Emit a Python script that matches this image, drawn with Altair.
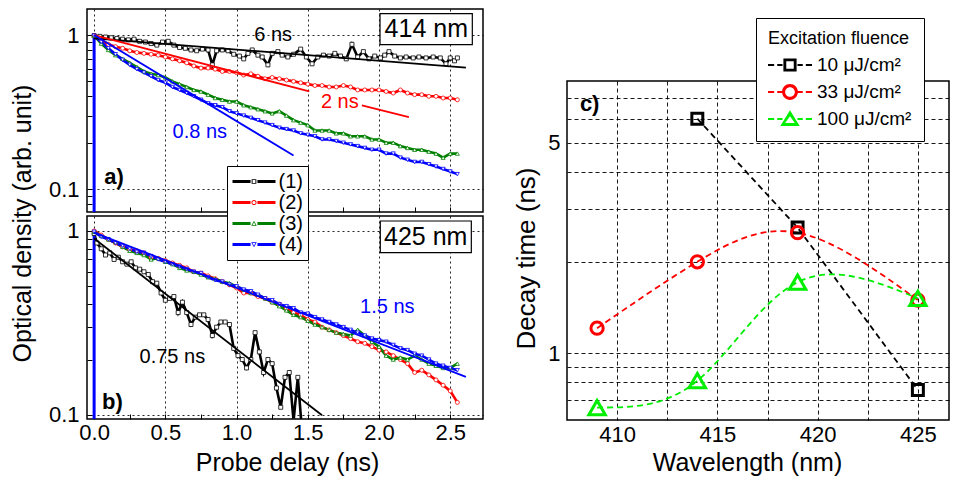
import altair as alt
import pandas as pd

# ---------------- data ----------------
T = [0.00, 0.05, 0.10, 0.15, 0.20, 0.25, 0.30, 0.35, 0.40, 0.45,
     0.50, 0.55, 0.60, 0.65, 0.70, 0.75, 0.80, 0.85, 0.90, 0.95,
     1.00, 1.05, 1.10, 1.15, 1.20, 1.25, 1.30, 1.35, 1.40, 1.45,
     1.50, 1.55, 1.60, 1.65, 1.70, 1.75, 1.80, 1.85, 1.90, 1.95,
     2.00, 2.05, 2.10, 2.15, 2.20, 2.25, 2.30, 2.35, 2.40, 2.45,
     2.50, 2.55]

# panel a) 414 nm
A_BLACK_X = [0.00, 0.04, 0.08, 0.12, 0.16, 0.20, 0.24, 0.28, 0.32, 0.36,
             0.40, 0.44, 0.48, 0.52, 0.56, 0.60, 0.64, 0.68, 0.72, 0.76,
             0.80, 0.83, 0.86, 0.90, 0.94, 0.98, 1.02, 1.05, 1.08, 1.11,
             1.15, 1.18, 1.22, 1.25, 1.29, 1.32, 1.36, 1.40, 1.45, 1.49,
             1.53, 1.57, 1.61, 1.65, 1.69, 1.73, 1.77, 1.81, 1.85, 1.89,
             1.93, 1.97, 2.01, 2.04, 2.07, 2.11, 2.15, 2.19, 2.24, 2.28,
             2.33, 2.38, 2.43, 2.47, 2.50, 2.53, 2.55]
A_BLACK_Y = [0.99, 0.98, 0.97, 0.96, 0.95, 0.94, 0.93, 0.94, 0.91, 0.90,
             0.88, 0.86, 0.90, 0.91, 0.86, 0.83, 0.82, 0.80, 0.79, 0.81,
             0.80, 0.64, 0.79, 0.80, 0.79, 0.75, 0.73, 0.70, 0.76, 0.80,
             0.74, 0.72, 0.64, 0.76, 0.78, 0.74, 0.72, 0.75, 0.81, 0.72,
             0.65, 0.72, 0.74, 0.73, 0.76, 0.73, 0.70, 0.87, 0.72, 0.78,
             0.70, 0.73, 0.71, 0.74, 0.78, 0.73, 0.71, 0.72, 0.71, 0.72,
             0.71, 0.72, 0.71, 0.65, 0.71, 0.68, 0.71]
A_RED = [0.99, 0.93, 0.87, 0.84, 0.82, 0.79, 0.77, 0.76, 0.75, 0.74,
         0.72, 0.70, 0.68, 0.66, 0.63, 0.61, 0.61, 0.60, 0.58, 0.58,
         0.57, 0.55, 0.56, 0.54, 0.52, 0.53, 0.52, 0.51, 0.50, 0.49,
         0.48, 0.47, 0.47, 0.46, 0.46, 0.47, 0.46, 0.44, 0.44, 0.44,
         0.44, 0.43, 0.42, 0.44, 0.42, 0.41, 0.41, 0.40, 0.40, 0.39,
         0.39, 0.38]
A_GREEN = [0.99, 0.88, 0.80, 0.74, 0.70, 0.66, 0.62, 0.58, 0.56, 0.55,
           0.53, 0.50, 0.48, 0.46, 0.44, 0.43, 0.41, 0.39, 0.38, 0.37,
           0.37, 0.35, 0.34, 0.33, 0.32, 0.31, 0.32, 0.30, 0.28, 0.27,
           0.26, 0.24, 0.24, 0.24, 0.23, 0.23, 0.22, 0.22, 0.22, 0.21,
           0.21, 0.20, 0.20, 0.19, 0.185, 0.18, 0.18, 0.175, 0.17, 0.16,
           0.17, 0.17]
A_BLUE = [0.99, 0.90, 0.82, 0.75, 0.69, 0.64, 0.60, 0.57, 0.54, 0.51,
          0.49, 0.46, 0.44, 0.42, 0.40, 0.38, 0.36, 0.35, 0.34, 0.32,
          0.31, 0.30, 0.29, 0.28, 0.27, 0.26, 0.25, 0.245, 0.24, 0.23,
          0.225, 0.22, 0.21, 0.21, 0.205, 0.20, 0.195, 0.19, 0.185, 0.18,
          0.18, 0.17, 0.17, 0.16, 0.155, 0.15, 0.15, 0.145, 0.14, 0.135,
          0.13, 0.125]

# panel b) 425 nm
B_BLACK_X = [0.00, 0.02, 0.05, 0.08, 0.11, 0.14, 0.17, 0.20, 0.23, 0.26,
             0.29, 0.32, 0.35, 0.38, 0.41, 0.44, 0.47, 0.50, 0.53, 0.56,
             0.59, 0.62, 0.65, 0.68, 0.71, 0.74, 0.77, 0.80, 0.83, 0.86,
             0.89, 0.92, 0.95, 0.98, 1.01, 1.04, 1.07, 1.10, 1.13, 1.16,
             1.19, 1.22, 1.25, 1.28, 1.31, 1.34, 1.37, 1.40, 1.43, 1.46]
B_BLACK_Y = [0.97, 0.86, 0.80, 0.74, 0.76, 0.70, 0.72, 0.68, 0.66, 0.68,
             0.63, 0.62, 0.60, 0.58, 0.53, 0.52, 0.46, 0.42, 0.43, 0.44,
             0.36, 0.41, 0.36, 0.31, 0.34, 0.35, 0.35, 0.33, 0.27, 0.30,
             0.32, 0.32, 0.31, 0.23, 0.21, 0.20, 0.18, 0.20, 0.28, 0.22,
             0.17, 0.20, 0.19, 0.14, 0.11, 0.16, 0.17, 0.093, 0.16, 0.08]
B_RED = [1.00, 0.95, 0.90, 0.86, 0.82, 0.79, 0.78, 0.76, 0.72, 0.71,
         0.69, 0.67, 0.65, 0.63, 0.60, 0.59, 0.57, 0.55, 0.53, 0.51,
         0.49, 0.46, 0.46, 0.44, 0.43, 0.41, 0.40, 0.38, 0.36, 0.35,
         0.33, 0.32, 0.30, 0.29, 0.28, 0.27, 0.26, 0.25, 0.245, 0.235,
         0.225, 0.22, 0.21, 0.20, 0.19, 0.17, 0.175, 0.165, 0.155, 0.145,
         0.135, 0.117]
B_GREEN = [0.99, 0.94, 0.90, 0.87, 0.82, 0.78, 0.76, 0.74, 0.70, 0.71,
           0.68, 0.66, 0.63, 0.61, 0.60, 0.58, 0.56, 0.55, 0.53, 0.52,
           0.50, 0.48, 0.46, 0.45, 0.43, 0.41, 0.39, 0.37, 0.35, 0.34,
           0.325, 0.31, 0.30, 0.29, 0.28, 0.275, 0.27, 0.29, 0.27, 0.25,
           0.235, 0.21, 0.20, 0.205, 0.20, 0.21, 0.20, 0.19, 0.185, 0.18,
           0.18, 0.19]
B_BLUE = [0.99, 0.93, 0.90, 0.86, 0.83, 0.80, 0.77, 0.76, 0.73, 0.70,
          0.68, 0.66, 0.64, 0.62, 0.60, 0.59, 0.56, 0.54, 0.53, 0.51,
          0.50, 0.48, 0.47, 0.45, 0.43, 0.42, 0.40, 0.39, 0.38, 0.36,
          0.355, 0.34, 0.33, 0.32, 0.31, 0.30, 0.29, 0.28, 0.27, 0.26,
          0.255, 0.25, 0.24, 0.23, 0.225, 0.215, 0.21, 0.20, 0.19, 0.185,
          0.18, 0.175]

# rising edge at t = 0 (drawn in blue on both panels)
EDGE_X = [0.0, 0.0]
EDGE_Y = [0.001, 0.99]

# exponential fits (segment end points)
FIT_A_SEG = ["k", "r1", "r2", "b"]
FIT_A_COLOR = ["#000000", "#ff0000", "#ff0000", "#0000ff"]
FIT_A_X0 = [0.0, 0.0, 1.88, 0.0]
FIT_A_X1 = [2.61, 1.51, 2.21, 1.40]
FIT_A_Y0 = [0.95, 1.0, 0.35, 1.0]
FIT_A_Y1 = [0.615, 0.43, 0.293, 0.165]

FIT_B_SEG = ["k", "b"]
FIT_B_COLOR = ["#000000", "#0000ff"]
FIT_B_X0 = [0.0, 0.0]
FIT_B_X1 = [1.60, 2.61]
FIT_B_Y0 = [0.91, 0.98]
FIT_B_Y1 = [0.0995, 0.161]

# annotations
A_NOTE_TEXT = ["6 ns", "2 ns", "0.8 ns"]
A_NOTE_X = [1.257, 1.725, 0.742]
A_NOTE_Y = [1.0, 0.367, 0.234]
A_NOTE_COLOR = ["#000000", "#ff0000", "#0000ff"]
B_NOTE_TEXT = ["1.5 ns", "0.75 ns"]
B_NOTE_X = [2.058, 0.549]
B_NOTE_Y = [0.386, 0.207]
B_NOTE_COLOR = ["#0000ff", "#000000"]

A_TAG = ("a)", 0.14, 0.12)
B_TAG = ("b)", 0.129, 0.118)
A_BOX = ("414 nm", 2.007, 2.655, 0.865, 1.375, 2.332, 1.094)
B_BOX = ("425 nm", 2.009, 2.648, 0.762, 1.133, 2.328, 0.928)

SERIES = ["1", "2", "3", "4"]
SERIES_LABELS = ["(1)", "(2)", "(3)", "(4)"]
SERIES_COLORS = ["#000000", "#ff0000", "#008000", "#0000ff"]
SERIES_SHAPES = ["square", "circle", "triangle-up", "triangle-down"]

X_TICKS = [0.0, 0.25, 0.5, 0.75, 1.0, 1.25, 1.5, 1.75, 2.0, 2.25, 2.5]
A_YTICKS = [0.08, 0.09, 0.1, 0.2, 0.3, 0.4, 0.5, 0.6, 0.7, 0.8, 0.9, 1.0]
B_YTICKS = [0.1, 0.2, 0.3, 0.4, 0.5, 0.6, 0.7, 0.8, 0.9, 1.0]

# panel c)
FLUENCE_LABELS = ["10 \u03bcJ/cm\u00b2", "33 \u03bcJ/cm\u00b2", "100 \u03bcJ/cm\u00b2"]
FLUENCE_COLORS = ["#000000", "#ff0000", "#00ee00"]
FLUENCE_SHAPES = ["square", "circle", "triangle-up"]
C_WL_10 = [414, 419, 425]
C_TAU_10 = [6.0, 2.61, 0.755]
C_WL_33 = [409, 414, 419, 425]
C_TAU_33 = [1.21, 2.01, 2.51, 1.50]
C_WL_100 = [409, 414, 419, 425]
C_TAU_100 = [0.66, 0.81, 1.72, 1.52]
C_XTICKS = [410, 412.5, 415, 417.5, 420, 422.5, 425]
C_YTICKS = [0.7, 0.8, 0.9, 1, 2, 3, 4, 5, 6, 7]
C_TAG = ("c)", 408.63, 6.7)

FONT = "Liberation Sans"


# ---------------- symbol paths for the legends ----------------
def fmt(v):
    return f"{v:.4f}".rstrip("0").rstrip(".")


def bar(x0, x1, h, k):
    return f"M{fmt(x0*k)},{fmt(-h*k)}H{fmt(x1*k)}V{fmt(h*k)}H{fmt(x0*k)}Z"


def sq_ring(o, i, k):
    o, i = o * k, i * k
    return (f"M{fmt(-o)},{fmt(-o)}H{fmt(o)}V{fmt(o)}H{fmt(-o)}Z "
            f"M{fmt(-i)},{fmt(-i)}V{fmt(i)}H{fmt(i)}V{fmt(-i)}Z")


def circ_ring(o, i, k):
    o, i = o * k, i * k
    return (f"M{fmt(-o)},0A{fmt(o)},{fmt(o)} 0 1,1 {fmt(o)},0A{fmt(o)},{fmt(o)} 0 1,1 {fmt(-o)},0Z "
            f"M{fmt(-i)},0A{fmt(i)},{fmt(i)} 0 1,0 {fmt(i)},0A{fmt(i)},{fmt(i)} 0 1,0 {fmt(-i)},0Z")


def tri_ring(top, w, bot, itop, iw, ibot, k):
    return (f"M0,{fmt(top*k)}L{fmt(w*k)},{fmt(bot*k)}L{fmt(-w*k)},{fmt(bot*k)}Z "
            f"M0,{fmt(itop*k)}L{fmt(-iw*k)},{fmt(ibot*k)}L{fmt(iw*k)},{fmt(ibot*k)}Z")


def tri_down_ring(top, w, bot, itop, iw, ibot, k):
    return (f"M0,{fmt(top*k)}L{fmt(-w*k)},{fmt(bot*k)}L{fmt(w*k)},{fmt(bot*k)}Z "
            f"M0,{fmt(itop*k)}L{fmt(iw*k)},{fmt(ibot*k)}L{fmt(-iw*k)},{fmt(ibot*k)}Z")


AB_SYM = 21.0                 # legend symbol "size" (side) in px
KAB = 21.5 / (AB_SYM / 2)     # path scale so that the glyph is 43 px wide
AB_BARS = bar(-1, -0.16, 0.07, KAB) + " " + bar(0.16, 1, 0.07, KAB)
AB_PATHS = [
    AB_BARS + " " + sq_ring(0.11, 0.065, KAB),
    AB_BARS + " " + circ_ring(0.12, 0.075, KAB),
    AB_BARS + " " + tri_ring(-0.13, 0.13, 0.10, -0.06, 0.07, 0.065, KAB),
    AB_BARS + " " + tri_down_ring(0.13, 0.13, -0.10, 0.06, 0.07, -0.065, KAB),
]
C_SYM = 20.0
KC = 22.0 / (C_SYM / 2)
C_DASH = " ".join([bar(-1, -0.72, 0.045, KC), bar(-0.58, -0.34, 0.045, KC),
                   bar(0.34, 0.58, 0.045, KC), bar(0.72, 1, 0.045, KC)])
C_PATHS = [
    C_DASH + " " + sq_ring(0.3, 0.17, KC),
    C_DASH + " " + circ_ring(0.36, 0.22, KC),
    C_DASH + " " + tri_ring(-0.4, 0.44, 0.32, -0.13, 0.22, 0.18, KC),
]


# ---------------- frames ----------------
def series_frame(pairs):
    rows = []
    for s, (xs, ys) in zip(SERIES, pairs):
        for i, (x, y) in enumerate(zip(xs, ys)):
            rows.append({"series": s, "x": x, "y": y, "i": i})
    return pd.DataFrame(rows)


def fit_frame(seg, col, x0, x1, y0, y1):
    rows = []
    for s, c, a, b, p, q in zip(seg, col, x0, x1, y0, y1):
        rows.append({"seg": s, "c": c, "x": a, "y": p, "i": 0})
        rows.append({"seg": s, "c": c, "x": b, "y": q, "i": 1})
    return pd.DataFrame(rows)


def note_frame(text, xs, ys, cols):
    return pd.DataFrame({"t": text, "x": xs, "y": ys, "c": cols})


XSCALE = alt.Scale(domain=[-0.05, 2.73], nice=False, zero=False)


def x_axis_ab(show_labels):
    kw = dict(values=X_TICKS,
              labelExpr="(datum.value * 2) % 1 == 0 ? format(datum.value, '.1f') : ''",
              domain=False, ticks=True, tickSize=5, tickColor="black", tickWidth=1,
              offset=-5, grid=True, gridColor="black", gridDash=[2, 3], gridWidth=1,
              gridOpacity={"condition": {"test": "(datum.value * 2) % 1 == 0", "value": 0.85},
                           "value": 0},
              labelFontSize=22, labelColor="black", labelPadding=3, labelFlush=False,
              labelOverlap=False, labelFont=FONT)
    if show_labels:
        kw.update(title="Probe delay (ns)", titleFontSize=25, titleFontWeight="normal",
                  titleColor="black", titleBaseline="alphabetic", titleX=200, titleY=56,
                  titleFont=FONT)
    else:
        kw.update(labels=False, title=None)
    return alt.Axis(**kw)


def y_axis_ab(ticks, title):
    kw = dict(values=ticks,
              labelExpr="datum.value == 1 ? '1' : (datum.value == 0.1 ? '0.1' : '')",
              domain=False, ticks=True, tickSize=5, tickColor="black", tickWidth=1,
              offset=-5, grid=True, gridColor="black", gridDash=[2, 3], gridWidth=1,
              gridOpacity={"condition": {"test": "datum.value == 1 || datum.value == 0.1",
                                         "value": 0.85}, "value": 0},
              labelFontSize=22, labelColor="black", labelPadding=8, labelFlush=False,
              labelOverlap=False, labelFont=FONT)
    if title:
        kw.update(title=title, titleFontSize=25, titleFontWeight="normal", titleColor="black",
                  titleAngle=270, titleAlign="center", titleBaseline="bottom",
                  titleX=-56.5, titleY=214, titleFont=FONT)
    else:
        kw.update(title=None)
    return alt.Axis(**kw)


def decay_panel(pairs, fit, notes, tag, box, ydom, yticks, show_x, ytitle, legend):
    data = series_frame(pairs)
    ys = alt.Scale(type="log", domain=ydom, nice=False)
    xa = x_axis_ab(show_x)
    ya = y_axis_ab(yticks, ytitle)

    def X(f):
        return alt.X(f, type="quantitative", scale=XSCALE, axis=xa)

    def Y(f):
        return alt.Y(f, type="quantitative", scale=ys, axis=ya)

    cscale = alt.Scale(domain=SERIES, range=SERIES_COLORS)
    sscale = alt.Scale(domain=SERIES, range=SERIES_SHAPES)

    lines = alt.Chart(data).mark_line(strokeWidth=2.6, clip=True).encode(
        x=X("x"), y=Y("y"),
        color=alt.Color("series:N", scale=cscale, legend=None),
        order="i:Q")
    edge = alt.Chart(pd.DataFrame({"x": EDGE_X, "y": EDGE_Y})).mark_line(
        strokeWidth=3, color="#0000ff", clip=True).encode(x=X("x"), y=Y("y"))
    points = alt.Chart(data).mark_point(size=16, strokeWidth=0.8, fill="white",
                                        opacity=1, fillOpacity=1, clip=True).encode(
        x=X("x"), y=Y("y"),
        stroke=alt.Stroke("series:N", scale=cscale, legend=None),
        shape=alt.Shape("series:N", scale=sscale, legend=None))
    fits = alt.Chart(fit).mark_line(strokeWidth=1.8, clip=True).encode(
        x=X("x"), y=Y("y"), color=alt.Color("c:N", scale=None),
        detail="seg:N", order="i:Q")
    note = alt.Chart(notes).mark_text(fontSize=20, font=FONT).encode(
        x=X("x"), y=Y("y"), text="t:N", color=alt.Color("c:N", scale=None))
    tagc = alt.Chart(pd.DataFrame({"t": [tag[0]], "x": [tag[1]], "y": [tag[2]]})).mark_text(
        fontSize=22, fontWeight="bold", font=FONT, color="black").encode(
        x=X("x"), y=Y("y"), text="t:N")
    bdf = pd.DataFrame({"t": [box[0]], "x0": [box[1]], "x1": [box[2]], "y0": [box[3]],
                        "y1": [box[4]], "tx": [box[5]], "ty": [box[6]]})
    rect = alt.Chart(bdf).mark_rect(fill="white", stroke="black", strokeWidth=1.2).encode(
        x=X("x0"), x2="x1", y=Y("y0"), y2="y1")
    btxt = alt.Chart(bdf).mark_text(fontSize=25, font=FONT, color="black").encode(
        x=X("tx"), y=Y("ty"), text="t:N")
    layers = [lines, edge, points, fits, note, tagc, rect, btxt]
    if legend:
        ldf = pd.DataFrame({"lab": SERIES_LABELS, "x": [1.0] * 4, "y": [0.5] * 4})
        lg = alt.Legend(orient="none", legendX=140, legendY=-50, title=None,
                        fillColor="white", strokeColor="black", padding=5,
                        symbolSize=AB_SYM * AB_SYM, symbolStrokeWidth=0, symbolOpacity=1,
                        symbolOffset=11.5,
                        labelFontSize=20, labelFont=FONT, labelColor="black",
                        labelOffset=14, rowPadding=0, zindex=1)
        leg = alt.Chart(ldf).transform_filter("false").mark_point(
            filled=True, opacity=1, strokeWidth=0).encode(
            x=X("x"), y=Y("y"),
            color=alt.Color("lab:N", scale=alt.Scale(domain=SERIES_LABELS, range=SERIES_COLORS),
                            legend=lg),
            shape=alt.Shape("lab:N", scale=alt.Scale(domain=SERIES_LABELS, range=AB_PATHS),
                            legend=lg))
        layers.append(leg)
    return alt.layer(*layers).resolve_scale(
        color="independent", stroke="independent", shape="independent"
    ).properties(width=396, height=203)


panel_a = decay_panel([(A_BLACK_X, A_BLACK_Y), (T, A_RED), (T, A_GREEN), (T, A_BLUE)],
                      fit_frame(FIT_A_SEG, FIT_A_COLOR, FIT_A_X0, FIT_A_X1, FIT_A_Y0, FIT_A_Y1),
                      note_frame(A_NOTE_TEXT, A_NOTE_X, A_NOTE_Y, A_NOTE_COLOR),
                      A_TAG, A_BOX, [0.071, 1.475], A_YTICKS, False,
                      "Optical density (arb. unit)", False)
panel_b = decay_panel([(B_BLACK_X, B_BLACK_Y), (T, B_RED), (T, B_GREEN), (T, B_BLUE)],
                      fit_frame(FIT_B_SEG, FIT_B_COLOR, FIT_B_X0, FIT_B_X1, FIT_B_Y0, FIT_B_Y1),
                      note_frame(B_NOTE_TEXT, B_NOTE_X, B_NOTE_Y, B_NOTE_COLOR),
                      B_TAG, B_BOX, [0.095, 1.206], B_YTICKS, True, None, True)

# ---------------- panel c ----------------
crows = []
for lab, wls, taus in zip(FLUENCE_LABELS, [C_WL_10, C_WL_33, C_WL_100],
                          [C_TAU_10, C_TAU_33, C_TAU_100]):
    for i, (w, t) in enumerate(zip(wls, taus)):
        crows.append({"fl": lab, "wl": w, "tau": t, "i": i})
cdf = pd.DataFrame(crows)

C_W = 382
cx_axis = alt.Axis(values=C_XTICKS,
                   labelExpr="datum.value % 5 == 0 ? format(datum.value, 'd') : ''",
                   domain=False, ticks=False, grid=True, gridColor="black", gridDash=[4, 3],
                   gridWidth=1, gridOpacity=0.9, labelFontSize=22, labelColor="black",
                   labelPadding=4, labelFlush=False, labelOverlap=False, labelFont=FONT,
                   title="Wavelength (nm)", titleFontSize=25, titleFontWeight="normal",
                   titleColor="black", titleBaseline="alphabetic", titleX=180, titleY=50,
                   titleFont=FONT)
cy_axis = alt.Axis(values=C_YTICKS,
                   labelExpr="datum.value == 1 ? '1' : (datum.value == 5 ? '5' : '')",
                   domain=False, ticks=False, grid=True, gridColor="black", gridDash=[4, 3],
                   gridWidth=1, gridOpacity=0.9, labelFontSize=22, labelColor="black",
                   labelPadding=7, labelFlush=False, labelOverlap=False, labelFont=FONT,
                   title="Decay time (ns)", titleFontSize=26, titleFontWeight="normal",
                   titleColor="black", titleAngle=270, titleAlign="center",
                   titleBaseline="bottom", titleX=-28, titleY=177, titleFont=FONT)
CXS = alt.Scale(domain=[407.5, 407.5 + C_W / 20.05], nice=False, zero=False)
CYS = alt.Scale(type="log", domain=[0.6, 8], nice=False)


def CX(f):
    return alt.X(f, type="quantitative", scale=CXS, axis=cx_axis)


def CY(f):
    return alt.Y(f, type="quantitative", scale=CYS, axis=cy_axis)


c_layers = []
for k, (lab, col) in enumerate(zip(FLUENCE_LABELS, FLUENCE_COLORS)):
    c_layers.append(
        alt.Chart(cdf[cdf["fl"] == lab]).mark_line(
            color=col, strokeWidth=1.8, strokeDash=[6, 4],
            interpolate="linear" if k == 0 else "natural").encode(
            x=CX("wl"), y=CY("tau"), order="i:Q"))
for lab, col, shp, sz in zip(FLUENCE_LABELS, FLUENCE_COLORS, FLUENCE_SHAPES, [120, 150, 270]):
    c_layers.append(
        alt.Chart(cdf[cdf["fl"] == lab]).mark_point(
            shape=shp, size=sz, strokeWidth=3, color=col, filled=False, opacity=1).encode(
            x=CX("wl"), y=CY("tau")))
c_layers.append(
    alt.Chart(pd.DataFrame({"t": [C_TAG[0]], "x": [C_TAG[1]], "y": [C_TAG[2]]})).mark_text(
        fontSize=22, fontWeight="bold", font=FONT, color="black").encode(
        x=CX("x"), y=CY("y"), text="t:N"))
clg = alt.Legend(orient="none", legendX=189, legendY=-63, title="Excitation fluence",
                 titleFontSize=18, titleFontWeight="normal", titleColor="black",
                 titleFont=FONT, titlePadding=7, fillColor="white", strokeColor="black",
                 padding=12, symbolSize=C_SYM * C_SYM, symbolStrokeWidth=0, symbolOpacity=1,
                 symbolOffset=12,
                 labelFontSize=19, labelFont=FONT, labelColor="black", labelOffset=17,
                 rowPadding=7, zindex=1)
cleg_df = pd.DataFrame({"lab": FLUENCE_LABELS, "wl": [415] * 3, "tau": [2] * 3})
c_layers.append(
    alt.Chart(cleg_df).transform_filter("false").mark_point(
        filled=True, opacity=1, strokeWidth=0).encode(
        x=CX("wl"), y=CY("tau"),
        color=alt.Color("lab:N", scale=alt.Scale(domain=FLUENCE_LABELS, range=FLUENCE_COLORS),
                        legend=clg),
        shape=alt.Shape("lab:N", scale=alt.Scale(domain=FLUENCE_LABELS, range=C_PATHS),
                        legend=clg)))
panel_c = alt.layer(*c_layers).resolve_scale(color="independent", shape="independent").properties(
    width=C_W, height=339)

spacer = alt.Chart(pd.DataFrame({"v": [0]})).mark_point(opacity=0).encode(
    x=alt.X("v:Q", axis=None), y=alt.Y("v:Q", axis=None)).properties(
    width=C_W, height=72, view=alt.ViewBackground(stroke="transparent"))

left = alt.vconcat(panel_a, panel_b, spacing=4, bounds="flush")
right = alt.vconcat(spacer, panel_c, spacing=0, bounds="flush")
chart = alt.hconcat(left, right, spacing=28).properties(
    padding={"left": 1, "top": 0, "right": 0, "bottom": 0}
).configure(font=FONT).configure_view(stroke="black", strokeWidth=1.5)

chart.save("out.html", embed_options={"renderer": "svg", "actions": False})
